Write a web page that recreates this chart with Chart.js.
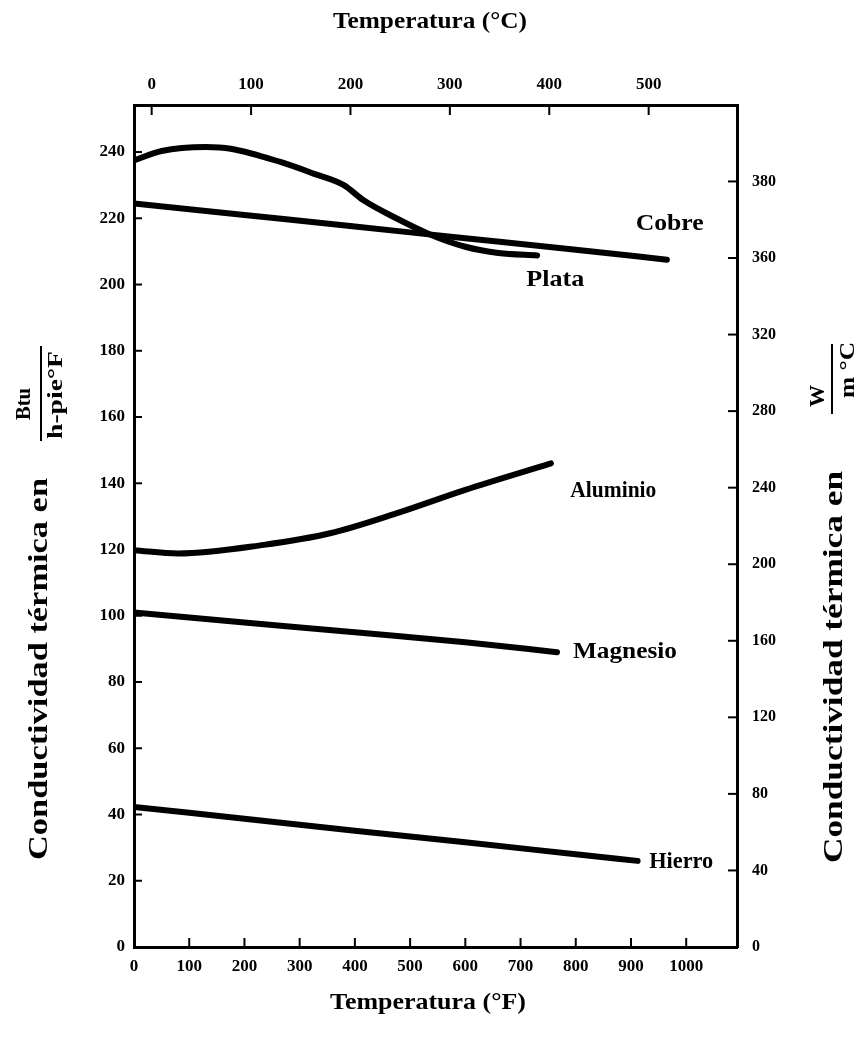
<!DOCTYPE html>
<html>
<head>
<meta charset="utf-8">
<script src="https://cdn.jsdelivr.net/npm/chart.js@4/dist/chart.umd.min.js"></script>
<style>
  html, body { margin: 0; padding: 0; background: #ffffff; }
  #wrap { width: 857px; height: 1048px; position: relative; }
  canvas { display: block; }
</style>
</head>
<body>
<div id="wrap"><canvas id="c" width="857" height="1048"></canvas></div>
<script>
// ---------------- DATA ----------------
const fahrenheitTicks = [0, 100, 200, 300, 400, 500, 600, 700, 800, 900, 1000];
const celsiusTicks = [0, 100, 200, 300, 400, 500];
const btuTicks = [0, 20, 40, 60, 80, 100, 120, 140, 160, 180, 200, 220, 240];
const wTickValues = [0, 40, 80, 120, 160, 200, 240, 280, 320, 360, 400];
const wTickLabels = ['0', '40', '80', '120', '160', '200', '240', '280', '320', '360', '380'];

const seriesNames = ['Cobre', 'Plata', 'Aluminio', 'Magnesio', 'Hierro'];

const cobreF = [0, 200, 400, 600, 800, 965];
const cobreK = [224.5, 221, 217.5, 214, 210.5, 207.5];

const plataF = [0, 50, 130, 175, 265, 325, 380, 415, 475, 535, 600, 660, 730];
const plataK = [237.5, 240.3, 241.5, 241, 237, 233.5, 230, 225.5, 220, 215.2, 211.4, 209.5, 208.8];

const aluminioF = [0, 80, 235, 355, 475, 600, 755];
const aluminioK = [119.8, 118.8, 121.4, 124.9, 130.9, 138, 146];

const magnesioF = [0, 200, 400, 600, 766];
const magnesioK = [101, 98, 95, 92, 89];

const hierroF = [0, 200, 400, 600, 800, 912];
const hierroK = [42.3, 38.7, 35.1, 31.6, 28, 26];

// ---------------- CONFIG ----------------
const X_MIN = 0, X_MAX = 1092;
const Y_MIN = 0, Y_MAX = 254.2;
const W_PER_BTU = 1.7307;
const FONT = "'Liberation Serif', 'DejaVu Serif', serif";

function pts(xs, ys) { return xs.map((x, i) => ({ x: x, y: ys[i] })); }

const seriesData = [
  pts(cobreF, cobreK),
  pts(plataF, plataK),
  pts(aluminioF, aluminioK),
  pts(magnesioF, magnesioK),
  pts(hierroF, hierroK)
];

// series label anchors (data coordinates: °F, Btu/h-pie°F)
const labelAnchors = [
  { x: 970, y: 218.3, w: 68 },
  { x: 763, y: 201.5, w: 58 },
  { x: 868, y: 137.7, w: 86 },
  { x: 889, y: 89.0, w: 104 },
  { x: 991, y: 25.6, w: 64 }
];

const datasets = seriesData.map((d, i) => ({
  label: seriesNames[i],
  data: d,
  xAxisID: 'x',
  yAxisID: 'y',
  borderColor: '#000000',
  borderWidth: 6,
  borderCapStyle: 'round',
  borderJoinStyle: 'round',
  pointRadius: 0,
  fill: false,
  cubicInterpolationMode: 'monotone',
  tension: 0.4
}));

// draw text at a fixed font size, stretched horizontally to a target length
function drawStretched(ctx, text, cx, cy, targetW, size, rot, weight) {
  weight = weight || 'bold';
  ctx.save();
  ctx.font = weight + ' ' + size + 'px ' + FONT;
  const w = ctx.measureText(text).width;
  ctx.translate(cx, cy);
  if (rot) ctx.rotate(rot);
  ctx.scale(targetW / w, 1);
  ctx.fillStyle = '#000';
  ctx.textAlign = 'center';
  ctx.textBaseline = 'middle';
  ctx.fillText(text, 0, 0);
  ctx.restore();
}

const decorPlugin = {
  id: 'decor',
  afterDraw(chart) {
    const ctx = chart.ctx;
    const sx = chart.scales.x, sx2 = chart.scales.x2, sy = chart.scales.y, sy2 = chart.scales.y2;
    const a = chart.chartArea;
    ctx.save();
    ctx.strokeStyle = '#000';
    ctx.lineWidth = 2;
    ctx.lineCap = 'butt';
    // inward ticks
    fahrenheitTicks.forEach(v => {
      const px = sx.getPixelForValue(v);
      ctx.beginPath(); ctx.moveTo(px, a.bottom); ctx.lineTo(px, a.bottom - 9); ctx.stroke();
    });
    celsiusTicks.forEach(v => {
      const px = sx2.getPixelForValue(v);
      ctx.beginPath(); ctx.moveTo(px, a.top); ctx.lineTo(px, a.top + 10); ctx.stroke();
    });
    btuTicks.forEach(v => {
      const py = sy.getPixelForValue(v);
      ctx.beginPath(); ctx.moveTo(a.left, py); ctx.lineTo(a.left + 8, py); ctx.stroke();
    });
    wTickValues.forEach(v => {
      const py = sy2.getPixelForValue(v);
      ctx.beginPath(); ctx.moveTo(a.right, py); ctx.lineTo(a.right - 9, py); ctx.stroke();
    });
    ctx.restore();

    // series labels
    labelAnchors.forEach((l, i) => {
      drawStretched(ctx, seriesNames[i], sx.getPixelForValue(l.x), sy.getPixelForValue(l.y), l.w, 24, 0);
    });

    // axis titles
    drawStretched(ctx, 'Temperatura (°C)', 430, 22, 194, 24, 0);
    drawStretched(ctx, 'Temperatura (°F)', 428, 1003, 196, 24, 0);

    const R = -Math.PI / 2;
    // left title
    drawStretched(ctx, 'Conductividad térmica en', 40, 669, 382, 27, R);
    drawStretched(ctx, 'Btu', 25, 404, 32, 21, R);
    drawStretched(ctx, 'h-pie°F', 57, 395, 88, 21, R);
    ctx.save();
    ctx.strokeStyle = '#000'; ctx.lineWidth = 2;
    ctx.beginPath(); ctx.moveTo(41, 441); ctx.lineTo(41, 346); ctx.stroke();
    ctx.restore();
    // right title
    drawStretched(ctx, 'Conductividad térmica en', 835, 667, 392, 27, R);
    drawStretched(ctx, 'W', 818, 396, 22, 22, R);
    drawStretched(ctx, 'm °C', 849, 370, 56, 21, R);
    ctx.save();
    ctx.strokeStyle = '#000'; ctx.lineWidth = 2;
    ctx.beginPath(); ctx.moveTo(832, 414); ctx.lineTo(832, 344); ctx.stroke();
    ctx.restore();
  }
};

const tickFont = { family: FONT, size: 17, weight: 'bold' };

new Chart(document.getElementById('c'), {
  type: 'line',
  data: { datasets: datasets },
  options: {
    responsive: false,
    animation: false,
    devicePixelRatio: 1,
    layout: { padding: 0 },
    plugins: { legend: { display: false }, tooltip: { enabled: false } },
    scales: {
      x: {
        type: 'linear', position: 'bottom', min: X_MIN, max: X_MAX,
        afterBuildTicks: s => { s.ticks = fahrenheitTicks.map(v => ({ value: v })); },
        afterFit: s => { s.height = 101; },
        grid: { drawOnChartArea: false, drawTicks: false },
        border: { display: true, width: 3, color: '#000' },
        ticks: { font: tickFont, color: '#000', padding: 9, maxRotation: 0, autoSkip: false,
                 callback: v => String(v) }
      },
      x2: {
        type: 'linear', position: 'top',
        min: (X_MIN - 32) / 1.8, max: (X_MAX - 32) / 1.8,
        afterBuildTicks: s => { s.ticks = celsiusTicks.map(v => ({ value: v })); },
        afterFit: s => { s.height = 105; },
        grid: { drawOnChartArea: false, drawTicks: false },
        border: { display: true, width: 3, color: '#000' },
        ticks: { font: tickFont, color: '#000', padding: 10, maxRotation: 0, autoSkip: false,
                 callback: v => String(v) }
      },
      y: {
        type: 'linear', position: 'left', min: Y_MIN, max: Y_MAX,
        afterBuildTicks: s => { s.ticks = btuTicks.map(v => ({ value: v })); },
        afterFit: s => { s.width = 134; },
        grid: { drawOnChartArea: false, drawTicks: false },
        border: { display: true, width: 3, color: '#000' },
        ticks: { font: tickFont, color: '#000', padding: 9, autoSkip: false,
                 callback: v => String(v) }
      },
      y2: {
        type: 'linear', position: 'right', min: Y_MIN * W_PER_BTU, max: Y_MAX * W_PER_BTU,
        afterBuildTicks: s => { s.ticks = wTickValues.map(v => ({ value: v })); },
        afterFit: s => { s.width = 120; },
        grid: { drawOnChartArea: false, drawTicks: false },
        border: { display: true, width: 3, color: '#000' },
        ticks: { font: { family: FONT, size: 16, weight: 'bold' }, color: '#000', padding: 15, autoSkip: false,
                 callback: (v) => { const i = wTickValues.indexOf(v); return i >= 0 ? wTickLabels[i] : ''; } }
      }
    }
  },
  plugins: [decorPlugin]
});
</script>
</body>
</html>
